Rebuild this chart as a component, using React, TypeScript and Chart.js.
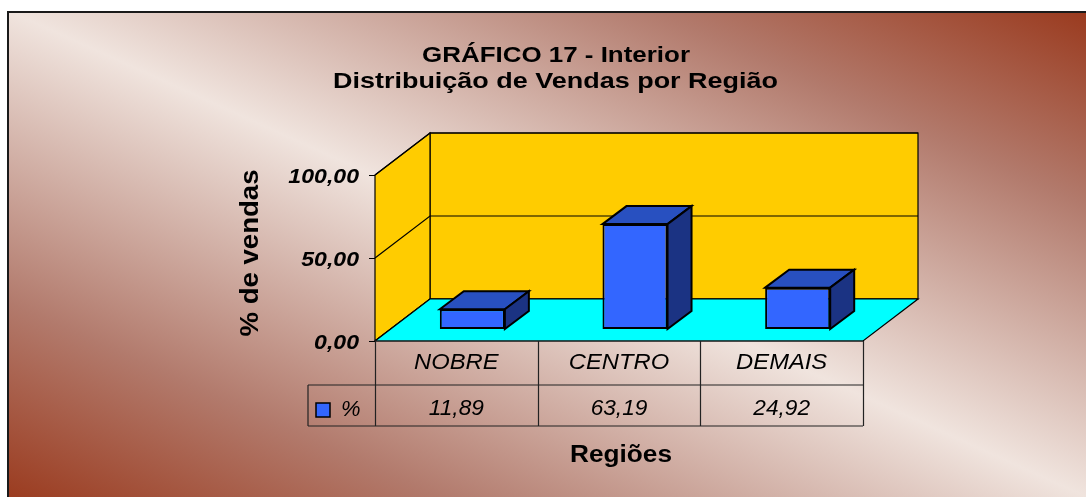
import React, { useEffect, useRef } from "react";
import { Chart, registerables } from "chart.js";

Chart.register(...registerables);

// ---------------- data ----------------
const TITLE_LINES = ["GRÁFICO 17 - Interior", "Distribuição de Vendas por Região"];
const CATEGORIES = ["NOBRE", "CENTRO", "DEMAIS"];
const SERIES_NAME = "%";
const SERIES_VALUES = [11.89, 63.19, 24.92];
const Y_TICKS = [0, 50, 100];
const Y_TITLE = "% de vendas";
const X_TITLE = "Regiões";

const fmt = (v: number) => v.toFixed(2).replace(".", ",");

// ---------------- style / geometry ----------------
const FONT = '"Liberation Sans", Arial, sans-serif';
const FLOOR_DX = 55;
const FLOOR_DY = 42;
const BAR_OFF_X = 16;
const BAR_OFF_Y = 12;
const BAR_DX = 24;
const BAR_DY = 18;

// draws text horizontally stretched (either by a fixed factor or to fit a width)
function drawText(
  ctx: CanvasRenderingContext2D,
  text: string,
  x: number,
  y: number,
  font: string,
  align: "left" | "center" | "right",
  opts: { width?: number; stretch?: number } = {}
) {
  ctx.font = font;
  ctx.textAlign = "left";
  const w0 = ctx.measureText(text).width;
  let s = opts.stretch ?? 1;
  if (opts.width) s = opts.width / w0;
  const w = w0 * s;
  const x0 = align === "center" ? x - w / 2 : align === "right" ? x - w : x;
  ctx.save();
  ctx.translate(x0, y);
  ctx.scale(s, 1);
  ctx.fillText(text, 0, 0);
  ctx.restore();
}

const plugin3d = {
  id: "excel3d",
  beforeDraw(chart: any) {
    const ctx: CanvasRenderingContext2D = chart.ctx;
    const W = chart.width;
    const H = chart.height;
    ctx.save();
    ctx.fillStyle = "#ffffff";
    ctx.fillRect(0, 0, W, H);
    const cx = W / 2 + 4, cy = H / 2 + 5;
    const dx = 0.411, dy = -0.912, L = 443;
    const g = ctx.createLinearGradient(cx - L * dx, cy - L * dy, cx + L * dx, cy + L * dy);
    g.addColorStop(0, "#9b3c20");
    g.addColorStop(0.2, "#b27a6c");
    g.addColorStop(0.5, "#f0e4de");
    g.addColorStop(0.8, "#b27a6c");
    g.addColorStop(1, "#9a3a1e");
    ctx.fillStyle = g;
    ctx.fillRect(7, 11, W - 7, H - 11);
    ctx.fillStyle = "#1a1a1a";
    ctx.fillRect(7, 11, W - 7, 2);
    ctx.fillRect(7, 11, 2, H - 11);
    ctx.restore();
  },
  beforeDatasetsDraw(chart: any) {
    const ctx: CanvasRenderingContext2D = chart.ctx;
    const ys = chart.scales.y;
    const xl = chart.chartArea.left - BAR_OFF_X;
    const xr = chart.chartArea.right - BAR_OFF_X;
    const yv = (v: number) => ys.getPixelForValue(v) + BAR_OFF_Y;
    const y0 = yv(Y_TICKS[0]);
    const yTop = yv(Y_TICKS[Y_TICKS.length - 1]);
    ctx.save();
    ctx.lineWidth = 1.2;
    ctx.strokeStyle = "#000";
    ctx.lineJoin = "miter";
    ctx.fillStyle = "#ffcc00";
    ctx.fillRect(xl + FLOOR_DX, yTop - FLOOR_DY, xr - xl, y0 - yTop);
    ctx.strokeRect(xl + FLOOR_DX, yTop - FLOOR_DY, xr - xl, y0 - yTop);
    ctx.beginPath();
    ctx.moveTo(xl, y0);
    ctx.lineTo(xl, yTop);
    ctx.lineTo(xl + FLOOR_DX, yTop - FLOOR_DY);
    ctx.lineTo(xl + FLOOR_DX, y0 - FLOOR_DY);
    ctx.closePath();
    ctx.fill();
    ctx.stroke();
    for (const t of Y_TICKS) {
      const y = yv(t);
      ctx.beginPath();
      ctx.moveTo(xl, y);
      ctx.lineTo(xl + FLOOR_DX, y - FLOOR_DY);
      ctx.lineTo(xr + FLOOR_DX, y - FLOOR_DY);
      ctx.stroke();
    }
    ctx.fillStyle = "#00ffff";
    ctx.beginPath();
    ctx.moveTo(xl, y0);
    ctx.lineTo(xr, y0);
    ctx.lineTo(xr + FLOOR_DX, y0 - FLOOR_DY);
    ctx.lineTo(xl + FLOOR_DX, y0 - FLOOR_DY);
    ctx.closePath();
    ctx.fill();
    ctx.stroke();
    ctx.restore();
  },
  afterDatasetsDraw(chart: any) {
    const ctx: CanvasRenderingContext2D = chart.ctx;
    const meta = chart.getDatasetMeta(0);
    ctx.save();
    ctx.lineWidth = 2;
    ctx.strokeStyle = "#000";
    ctx.lineJoin = "miter";
    for (const el of meta.data) {
      const p = el.getProps(["x", "y", "base", "width"], true);
      const l = p.x - p.width / 2;
      const r = p.x + p.width / 2;
      const t = p.y;
      const b = p.base;
      ctx.fillStyle = "#2850c0";
      ctx.beginPath();
      ctx.moveTo(l, t);
      ctx.lineTo(l + BAR_DX, t - BAR_DY);
      ctx.lineTo(r + BAR_DX, t - BAR_DY);
      ctx.lineTo(r, t);
      ctx.closePath();
      ctx.fill();
      ctx.stroke();
      ctx.fillStyle = "#1b3383";
      ctx.beginPath();
      ctx.moveTo(r, t);
      ctx.lineTo(r + BAR_DX, t - BAR_DY);
      ctx.lineTo(r + BAR_DX, b - BAR_DY);
      ctx.lineTo(r, b);
      ctx.closePath();
      ctx.fill();
      ctx.stroke();
    }
    ctx.restore();
  },
  afterDraw(chart: any) {
    const ctx: CanvasRenderingContext2D = chart.ctx;
    const ys = chart.scales.y;
    const xs = chart.scales.x;
    const xl = chart.chartArea.left - BAR_OFF_X;
    const xr = chart.chartArea.right - BAR_OFF_X;
    const yv = (v: number) => ys.getPixelForValue(v) + BAR_OFF_Y;
    const y0 = yv(0);
    ctx.save();
    ctx.fillStyle = "#000";
    ctx.textBaseline = "alphabetic";

    // title
    drawText(ctx, TITLE_LINES[0], 556, 62, `bold 22px ${FONT}`, "center", { width: 268 });
    drawText(ctx, TITLE_LINES[1], 555.5, 87.5, `bold 22px ${FONT}`, "center", { width: 445 });

    // y ticks
    ctx.strokeStyle = "#000";
    ctx.lineWidth = 1;
    for (const t of Y_TICKS) {
      const y = yv(t);
      ctx.beginPath();
      ctx.moveTo(xl - 6, Math.round(y) + 0.5);
      ctx.lineTo(xl, Math.round(y) + 0.5);
      ctx.stroke();
      drawText(ctx, fmt(t), 359, y + 7.5, `italic bold 21px ${FONT}`, "right", { stretch: 1.1 });
    }

    // y title
    ctx.save();
    ctx.translate(258, 253);
    ctx.rotate(-Math.PI / 2);
    drawText(ctx, Y_TITLE, 0, 0, `bold 26px ${FONT}`, "center", { width: 167 });
    ctx.restore();

    // data table
    const rowMid = y0 + 44;
    const rowBot = y0 + 85;
    const legendLeft = 308;
    const n = CATEGORIES.length;
    const band = (xr - xl) / n;
    ctx.strokeStyle = "#222";
    ctx.lineWidth = 1.2;
    ctx.beginPath();
    ctx.moveTo(xl, y0);
    ctx.lineTo(xr, y0);
    ctx.moveTo(legendLeft, rowMid);
    ctx.lineTo(xr, rowMid);
    ctx.moveTo(legendLeft, rowBot);
    ctx.lineTo(xr, rowBot);
    ctx.moveTo(legendLeft, rowMid);
    ctx.lineTo(legendLeft, rowBot);
    for (let i = 0; i <= n; i++) {
      const x = Math.round(xl + i * band) + 0.5;
      ctx.moveTo(x, y0);
      ctx.lineTo(x, rowBot);
    }
    ctx.stroke();

    for (let i = 0; i < n; i++) {
      const cx = xs.getPixelForValue(i) - BAR_OFF_X;
      drawText(ctx, CATEGORIES[i], cx, y0 + 28, `italic 22px ${FONT}`, "center", { stretch: 1.08 });
      drawText(ctx, fmt(SERIES_VALUES[i]), cx, y0 + 74, `italic 22px ${FONT}`, "center", { stretch: 1.03 });
    }
    ctx.fillStyle = "#3366ff";
    ctx.fillRect(316, 403, 14, 14);
    ctx.strokeStyle = "#000";
    ctx.lineWidth = 1.5;
    ctx.strokeRect(316, 403, 14, 14);
    ctx.fillStyle = "#000";
    drawText(ctx, SERIES_NAME, 341, y0 + 75, `italic 22px ${FONT}`, "left");

    // x title
    drawText(ctx, X_TITLE, 621, 462, `bold 23px ${FONT}`, "center", { width: 102 });
    ctx.restore();
  },
};

export default function App() {
  const ref = useRef<HTMLCanvasElement>(null);
  useEffect(() => {
    const canvas = ref.current!;
    const chart = new Chart(canvas, {
      type: "bar",
      data: {
        labels: CATEGORIES,
        datasets: [
          {
            label: SERIES_NAME,
            data: SERIES_VALUES,
            backgroundColor: "#3366ff",
            borderColor: "#000000",
            borderWidth: 2,
            borderSkipped: false,
            barPercentage: 0.4,
            categoryPercentage: 1,
          },
        ],
      },
      options: {
        responsive: false,
        animation: false,
        devicePixelRatio: 1,
        layout: { padding: { left: 391, right: 207, top: 163, bottom: 168 } },
        scales: {
          x: { display: false, offset: true },
          y: { display: false, min: 0, max: 100 },
        },
        plugins: {
          legend: { display: false },
          title: { display: false },
          tooltip: { enabled: false },
        },
      },
      plugins: [plugin3d],
    });
    return () => chart.destroy();
  }, []);
  return (
    <div style={{ position: "fixed", left: 0, top: 0, width: 1086, height: 497 }}>
      <canvas ref={ref} width={1086} height={497} style={{ display: "block", width: 1086, height: 497 }} />
    </div>
  );
}
